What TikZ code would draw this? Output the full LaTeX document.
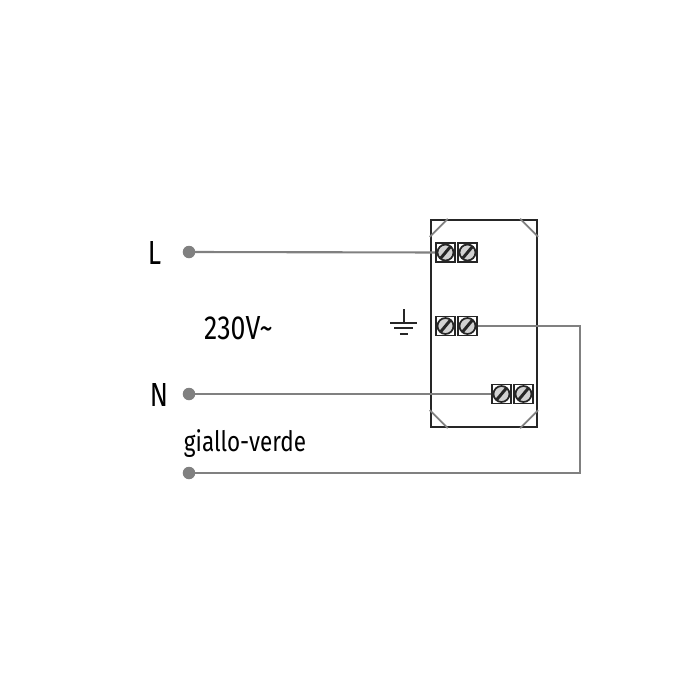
\documentclass[tikz,border=0pt]{standalone}
\usepackage{fontspec}
\setmainfont[FakeStretch=0.8]{Fira Sans}
\definecolor{wiregray}{gray}{0.5}
\definecolor{edgegray}{gray}{0.15}
\tikzset{
    wire/.style={draw=wiregray,line width=0.6pt},
    chamfer/.style={draw=wiregray,line width=0.5pt},
    bar/.style={draw=edgegray,line width=0.45pt},
    tip/.style={circle,fill=wiregray,inner sep=0pt,minimum size=0.125cm},
    casing/.style={rectangle,draw=edgegray,line width=0.7pt,minimum width=1.06cm,minimum height=2.07cm,inner sep=0pt},
    screw/.style={rectangle,draw=edgegray,line width=0.5pt,fill=white,minimum size=0.19cm,inner sep=0pt,
        path picture={
            \draw[edgegray,line width=0.5pt,fill=wiregray!35] (path picture bounding box.center) circle (0.08cm);
            \draw[edgegray,line width=0.85pt] ([shift={(-0.05,-0.06)}]path picture bounding box.center) -- ([shift={(0.05,0.06)}]path picture bounding box.center);
        }},
    lbl/.style={inner sep=0pt,text=black,font=\fontsize{9.5}{11}\selectfont},
    lblsmall/.style={inner sep=0pt,text=black,font=\fontsize{8}{10}\selectfont}
}

\begin{document}
\begin{tikzpicture}
    \useasboundingbox (0,0) rectangle (7,7);
    \node[casing] (box) at (4.84,3.765) {};
    \draw[chamfer] ([xshift=0.18cm]box.north west) -- ([yshift=-0.18cm]box.north west);
    \draw[chamfer] ([xshift=-0.18cm]box.north east) -- ([yshift=-0.18cm]box.north east);
    \draw[chamfer] ([xshift=0.18cm]box.south west) -- ([yshift=0.18cm]box.south west);
    \draw[chamfer] ([xshift=-0.18cm]box.south east) -- ([yshift=0.18cm]box.south east);

    \node[tip] (ltip) at (1.89,4.48) {};
    \node[tip] (ntip) at (1.89,3.06) {};
    \node[tip] (gtip) at (1.89,2.27) {};
    \coordinate (turn) at (5.80,3.74);
    \coordinate (la0) at (4.455,4.475);
    \coordinate (na0) at (5.015,3.06);
    \coordinate (eb0) at (4.675,3.74);

    \draw[wire] (ltip.center) -- (la0);
    \draw[wire] (ntip.center) -- (na0);
    \draw[wire] (eb0) -- (turn) |- (gtip.center);

    \node[screw] (la) at (la0) {};
    \node[screw] (lb) at (4.675,4.475) {};
    \node[screw] (ea) at (4.455,3.74) {};
    \node[screw] (eb) at (eb0) {};
    \node[screw] (na) at (na0) {};
    \node[screw] (nb) at (5.235,3.06) {};

    \node[lbl] (l) at (1.545,4.47) {L};
    \node[lbl] (n) at (1.59,3.055) {N};
    \node[lbl] (volt) at (2.385,3.72) {230V\textasciitilde};
    \node[lblsmall] (gv) at (2.45,2.56) {giallo-verde};

    % earth symbol
    \coordinate (gnd) at (4.04,3.91);
    \coordinate (gnd1) at (4.04,3.77);
    \coordinate (gnd2) at (4.04,3.72);
    \coordinate (gnd3) at (4.04,3.66);
    \draw[bar] (gnd) -- (gnd1);
    \draw[bar] ([xshift=-0.135cm]gnd1) -- ([xshift=0.135cm]gnd1);
    \draw[bar] ([xshift=-0.095cm]gnd2) -- ([xshift=0.095cm]gnd2);
    \draw[bar] ([xshift=-0.04cm]gnd3) -- ([xshift=0.04cm]gnd3);
\end{tikzpicture}
\end{document}
